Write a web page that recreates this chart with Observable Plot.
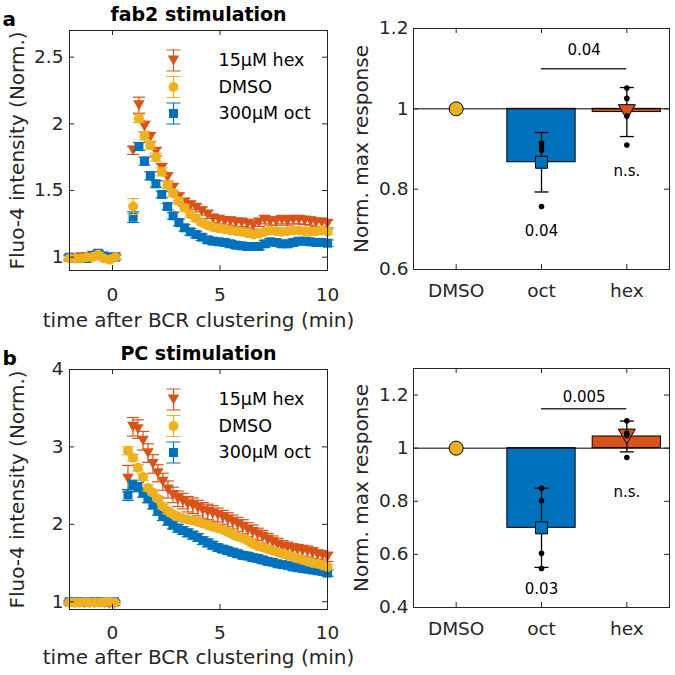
<!DOCTYPE html>
<html><head><meta charset="utf-8">
<script src="https://cdn.jsdelivr.net/npm/d3@7"></script>
<script src="https://cdn.jsdelivr.net/npm/@observablehq/plot@0.6"></script>
<style>
html,body{margin:0;padding:0;background:#fff;}
#root{position:relative;width:675px;height:675px;overflow:hidden;font-family:"DejaVu Sans",sans-serif;}
#root > svg{position:absolute;}
</style></head><body><div id="root"></div>
<script>
// ---------- Panel a (fab2 stimulation) time course ----------
const timeFab2 = [-2.00,-1.73,-1.47,-1.20,-0.93,-0.67,-0.40,-0.13,0.13,
  0.96,1.23,1.49,1.76,2.02,2.29,2.56,2.82,3.09,3.35,3.62,3.89,4.15,4.42,4.68,4.95,5.22,5.48,5.75,6.01,
  6.28,6.55,6.81,7.08,7.34,7.61,7.88,8.14,8.41,8.67,8.94,9.21,9.47,9.74,10.00];
const hexFab2 = [0.99,0.99,1.00,1.00,1.01,1.02,1.00,0.99,1.00,
  1.80,2.14,1.98,1.90,1.79,1.67,1.60,1.52,1.45,1.41,1.39,1.37,1.345,1.32,1.29,1.28,1.27,1.27,1.26,1.26,
  1.25,1.24,1.26,1.28,1.27,1.27,1.28,1.27,1.28,1.28,1.275,1.27,1.26,1.26,1.25];
const hexFab2Err = [0.02,0.02,0.02,0.02,0.02,0.02,0.02,0.02,0.02,
  0.03,0.06,0.04,0.035,0.03,0.03,0.03,0.03,0.03,0.03,0.03,0.03,0.03,0.03,0.03,0.03,0.03,0.03,0.03,0.03,
  0.03,0.03,0.03,0.03,0.03,0.03,0.03,0.03,0.03,0.03,0.03,0.03,0.03,0.03,0.03];
const dmsoFab2 = [0.99,0.99,0.99,1.00,1.00,1.02,0.99,0.98,1.00,
  1.38,2.04,1.91,1.84,1.75,1.64,1.54,1.48,1.42,1.37,1.32,1.29,1.26,1.24,1.225,1.215,1.21,1.20,1.195,1.19,
  1.18,1.17,1.175,1.19,1.20,1.195,1.19,1.195,1.20,1.20,1.195,1.19,1.195,1.20,1.19];
const dmsoFab2Err = [0.015,0.015,0.015,0.015,0.015,0.015,0.015,0.015,0.015,
  0.06,0.03,0.03,0.03,0.03,0.03,0.025,0.025,0.025,0.025,0.02,0.02,0.02,0.02,0.02,0.02,0.02,0.02,0.02,0.02,
  0.02,0.02,0.02,0.02,0.02,0.02,0.02,0.02,0.02,0.02,0.02,0.02,0.02,0.02,0.02];
const octFab2 = [1.00,0.99,0.99,0.99,1.01,1.03,1.01,1.00,1.00,
  1.30,1.83,1.72,1.61,1.55,1.47,1.38,1.31,1.26,1.22,1.19,1.17,1.15,1.13,1.12,1.115,1.11,1.10,1.09,1.085,
  1.08,1.08,1.08,1.10,1.115,1.11,1.10,1.10,1.11,1.12,1.12,1.115,1.11,1.11,1.105];
const octFab2Err = [0.015,0.015,0.015,0.015,0.015,0.015,0.015,0.015,0.015,
  0.04,0.03,0.03,0.03,0.025,0.025,0.025,0.025,0.025,0.025,0.025,0.025,0.025,0.025,0.025,0.025,0.025,0.025,0.025,0.025,
  0.025,0.025,0.025,0.025,0.025,0.025,0.025,0.025,0.025,0.025,0.025,0.025,0.025,0.025,0.025];

// ---------- Panel b (PC stimulation) time course ----------
const timePC = [-2.00,-1.77,-1.54,-1.30,-1.07,-0.84,-0.61,-0.38,-0.14,0.09,
  0.72,0.95,1.18,1.42,1.65,1.88,2.11,2.34,2.58,2.81,3.04,3.27,3.50,3.74,3.97,4.20,4.43,4.66,4.90,5.13,
  5.36,5.59,5.82,6.06,6.29,6.52,6.75,6.98,7.22,7.45,7.68,7.91,8.14,8.38,8.61,8.84,9.07,9.30,9.54,9.77,10.00];
const hexPC = [0.98,0.98,0.99,0.98,0.98,0.98,0.99,0.98,0.97,0.97,
  2.59,3.26,3.23,3.08,2.92,2.78,2.66,2.55,2.45,2.38,2.33,2.30,2.26,2.24,2.21,2.18,2.16,2.14,2.12,2.09,
  2.06,2.03,2.00,1.97,1.93,1.90,1.87,1.84,1.80,1.77,1.74,1.71,1.70,1.68,1.67,1.66,1.65,1.63,1.61,1.60,1.58];
const hexPCErr = [0.02,0.02,0.02,0.02,0.02,0.02,0.02,0.02,0.02,0.02,
  0.17,0.12,0.12,0.12,0.12,0.12,0.11,0.11,0.11,0.10,0.10,0.10,0.10,0.10,0.10,0.10,0.10,0.10,0.09,0.09,
  0.09,0.09,0.09,0.09,0.09,0.09,0.08,0.08,0.08,0.08,0.08,0.08,0.07,0.07,0.07,0.07,0.07,0.07,0.06,0.06,0.06];
const dmsoPC = [0.99,0.99,0.99,0.99,0.99,0.99,0.99,0.99,1.00,0.99,
  2.95,2.86,2.73,2.61,2.47,2.41,2.33,2.23,2.17,2.13,2.10,2.08,2.06,2.05,2.03,2.01,1.99,1.97,1.95,1.93,
  1.90,1.87,1.84,1.82,1.79,1.75,1.72,1.70,1.68,1.66,1.64,1.62,1.60,1.58,1.56,1.54,1.52,1.50,1.49,1.47,1.45];
const dmsoPCErr = [0.015,0.015,0.015,0.015,0.015,0.015,0.015,0.015,0.015,0.015,
  0.05,0.04,0.04,0.04,0.04,0.03,0.03,0.03,0.03,0.03,0.03,0.03,0.03,0.03,0.03,0.03,0.03,0.03,0.03,0.03,
  0.03,0.03,0.03,0.03,0.03,0.03,0.03,0.03,0.03,0.03,0.03,0.03,0.03,0.03,0.03,0.03,0.03,0.03,0.03,0.03,0.03];
const octPC = [1.00,1.00,1.00,0.99,1.00,1.00,1.00,0.99,1.00,1.00,
  2.38,2.51,2.48,2.41,2.33,2.25,2.17,2.10,2.04,1.99,1.95,1.92,1.89,1.86,1.83,1.79,1.76,1.73,1.70,1.68,
  1.66,1.64,1.62,1.60,1.59,1.57,1.56,1.54,1.52,1.51,1.49,1.48,1.47,1.45,1.44,1.43,1.42,1.41,1.40,1.39,1.37];
const octPCErr = [0.015,0.015,0.015,0.015,0.015,0.015,0.015,0.015,0.015,0.015,
  0.07,0.06,0.06,0.06,0.05,0.05,0.05,0.05,0.05,0.05,0.05,0.05,0.05,0.05,0.05,0.05,0.05,0.05,0.045,0.045,
  0.045,0.045,0.045,0.045,0.045,0.045,0.045,0.045,0.04,0.04,0.04,0.04,0.04,0.04,0.04,0.04,0.04,0.04,0.04,0.04,0.04];

// ---------- Bar panels ----------
const categories = ["DMSO", "oct", "hex"];
const fab2Mean = [1.0, 0.867, 0.992];
const fab2Err = [0, 0.074, 0.061];
const fab2OctPoints = [0.915, 0.905, 0.897, 0.757];
const fab2HexPoints = [1.052, 1.026, 0.982, 0.910];
const pcMean = [1.0, 0.700, 1.044];
const pcErr = [0, 0.149, 0.058];
const pcOctPoints = [0.849, 0.802, 0.604, 0.547];
const pcHexPoints = [1.103, 1.057, 1.048, 0.965];
const fab2Sig = {from: "oct", to: "hex", y: 1.10, label: "0.04", labelY: 1.147};
const pcSig = {from: "oct", to: "hex", y: 1.148, label: "0.005", labelY: 1.193};
const fab2Notes = [{cat: "oct", y: 0.696, label: "0.04"}, {cat: "hex", y: 0.844, label: "n.s."}];
const pcNotes = [{cat: "oct", y: 0.47, label: "0.03"}, {cat: "hex", y: 0.836, label: "n.s."}];

// ---------- Tick labels ----------
const timeTicks = [0, 5, 10];
const fab2YTicks = [1, 1.5, 2, 2.5];
const pcYTicks = [1, 2, 3, 4];
const fab2BarTicks = [0.6, 0.8, 1, 1.2];
const pcBarTicks = [0.4, 0.6, 0.8, 1, 1.2];

const AX = "#262626";
const C = {hex: "#D95319", dmso: "#EDB120", oct: "#0072BD"};
const FONT = "DejaVu Sans";

const capSym = (w) => ({draw(ctx){ ctx.moveTo(-w/2, 0); ctx.lineTo(w/2, 0); }});
const legendBar = (h, w) => ({draw(ctx){ ctx.moveTo(-w/2,-h); ctx.lineTo(w/2,-h); ctx.moveTo(0,-h); ctx.lineTo(0,h); ctx.moveTo(-w/2,h); ctx.lineTo(w/2,h); }});
const triDown = (s) => ({draw(ctx){ const h = s*0.866; ctx.moveTo(-s/2,-h/2); ctx.lineTo(s/2,-h/2); ctx.lineTo(0,h/2); ctx.closePath(); }});
const squareSym = (s) => ({draw(ctx){ ctx.rect(-s/2,-s/2,s,s); }});
const circleSym = (d) => ({draw(ctx){ ctx.moveTo(d/2,0); ctx.arc(0,0,d/2,0,2*Math.PI); }});
const fmt = d3.format("~g");

function innerTicks(xTicks, yTicks, fw, fh) {
  return [
    Plot.tickY(yTicks, {y: d => d, insetRight: fw - 5, stroke: AX}),
    Plot.tickY(yTicks, {y: d => d, insetLeft: fw - 5, stroke: AX}),
    Plot.tickX(xTicks, {x: d => d, insetTop: fh - 5, stroke: AX}),
    Plot.tickX(xTicks, {x: d => d, insetBottom: fh - 5, stroke: AX})
  ];
}

function timePanel(o) {
  const W = 340, ML = 69, MR = 13;
  const fw = W - ML - MR, fh = o.height - o.mTop - o.mBottom;
  const series = [
    {key: "hex", label: "15\u03BCM hex", values: o.hex, errs: o.hexErr, color: C.hex, sym: triDown(11.5)},
    {key: "oct", label: "300\u03BCM oct", values: o.oct, errs: o.octErr, color: C.oct, sym: squareSym(9)},
    {key: "dmso", label: "DMSO", values: o.dmso, errs: o.dmsoErr, color: C.dmso, sym: circleSym(10)}
  ];
  const marks = [];
  series.forEach(s => {
    const rows = o.time.map((t, i) => ({t, v: s.values[i], e: s.errs[i]}));
    marks.push(Plot.ruleX(rows, {x: "t", y1: d => d.v - d.e, y2: d => d.v + d.e, stroke: s.color, strokeWidth: 1.2}));
    marks.push(Plot.dot(rows, {x: "t", y: d => d.v - d.e, symbol: capSym(12), stroke: s.color, fill: "none", strokeWidth: 1.2}));
    marks.push(Plot.dot(rows, {x: "t", y: d => d.v + d.e, symbol: capSym(12), stroke: s.color, fill: "none", strokeWidth: 1.2}));
    marks.push(Plot.dot(rows, {x: "t", y: "v", symbol: s.sym, fill: s.color, stroke: "none"}));
  });
  const legendOrder = [series[0], series[2], series[1]];
  legendOrder.forEach((s, k) => {
    const dy = 30 + k * 26.5;
    marks.push(Plot.dot([s], {x: null, y: null, frameAnchor: "top-left", dx: 104, dy, symbol: legendBar(10.5, 14), stroke: s.color, fill: "none", strokeWidth: 1.2}));
    marks.push(Plot.dot([s], {x: null, y: null, frameAnchor: "top-left", dx: 104, dy, symbol: s.sym, fill: s.color, stroke: "none"}));
    marks.push(Plot.text([s.label], {x: null, y: null, frameAnchor: "top-left", dx: 149, dy, textAnchor: "start", lineAnchor: "middle", fontSize: 17.5, fill: "black"}));
  });
  marks.push(Plot.text([o.title], {x: null, y: null, frameAnchor: "top", dy: -15.3, lineAnchor: "middle", fontSize: 19, fontWeight: "bold", fill: "black"}));
  marks.push(Plot.text([o.letter], {x: null, y: null, frameAnchor: "top-left", dx: -67, dy: o.letterDy, textAnchor: "start", lineAnchor: "middle", fontSize: 20, fontWeight: "bold", fill: "black"}));
  marks.push(Plot.text(["Fluo-4 intensity (Norm.)"], {x: null, y: null, frameAnchor: "left", rotate: -90, dx: -60, textAnchor: "middle", lineAnchor: "top", fontSize: 20, fill: AX}));
  marks.push(Plot.text(["time after BCR clustering (min)"], {x: null, y: null, frameAnchor: "bottom", dy: o.labelDy, lineAnchor: "middle", fontSize: 20, fill: AX}));
  marks.push(...innerTicks(timeTicks, o.yTicks, fw, fh));
  marks.push(Plot.frame({stroke: AX, strokeWidth: 1}));
  const svg = Plot.plot({
    width: W, height: o.height, marginLeft: ML, marginRight: MR, marginTop: o.mTop, marginBottom: o.mBottom,
    x: {domain: [-2, 10], ticks: timeTicks, tickSize: 0, tickPadding: o.tickPadX, tickFormat: fmt, label: null},
    y: {domain: o.yDomain, ticks: o.yTicks, tickSize: 0, tickPadding: 6, tickFormat: fmt, label: null},
    style: {fontFamily: FONT, fontSize: "18.5px", color: AX, background: "transparent", overflow: "visible"},
    marks
  });
  svg.style.left = o.left + "px"; svg.style.top = o.top + "px";
  return svg;
}

function barPanel(o) {
  const W = 335, ML = 73, MR = 6;
  const fw = W - ML - MR, fh = o.height - o.mTop - o.mBottom;
  const idx = c => categories.indexOf(c) + 1;
  const colors = [C.dmso, C.oct, C.hex];
  const syms = [circleSym(14), squareSym(12), triDown(17)];
  const bars = categories.map((c, i) => ({i: i + 1, v: o.mean[i], e: o.err[i], color: colors[i], sym: syms[i]}));
  const withErr = bars.filter(d => d.e > 0);
  const pts = [...o.octPts.map(v => ({i: idx("oct"), v})), ...o.hexPts.map(v => ({i: idx("hex"), v}))];
  const marks = [
    Plot.rect(bars.filter(d => d.v !== 1), {x1: d => d.i - 0.4, x2: d => d.i + 0.4, y1: () => 1, y2: "v", fill: "color", stroke: "black", strokeWidth: 1}),
    Plot.ruleY([1], {stroke: "black", strokeWidth: 1}),
    Plot.ruleX(withErr, {x: "i", y1: d => d.v - d.e, y2: d => d.v + d.e, stroke: "black", strokeWidth: 1.3}),
    Plot.dot(withErr, {x: "i", y: d => d.v - d.e, symbol: capSym(14), stroke: "black", fill: "none", strokeWidth: 1.3}),
    Plot.dot(withErr, {x: "i", y: d => d.v + d.e, symbol: capSym(14), stroke: "black", fill: "none", strokeWidth: 1.3})
  ];
  bars.forEach(b => marks.push(Plot.dot([b], {x: "i", y: "v", symbol: b.sym, fill: b.color, stroke: "black", strokeWidth: 1})));
  marks.push(Plot.dot(pts, {x: "i", y: "v", r: 2.8, fill: "black", stroke: "none"}));
  marks.push(Plot.ruleY([o.sig], {y: "y", x1: d => idx(d.from), x2: d => idx(d.to), stroke: "#333", strokeWidth: 1.5}));
  marks.push(Plot.text([o.sig], {x: d => (idx(d.from) + idx(d.to)) / 2, y: "labelY", text: "label", fontSize: 15, fill: "black", lineAnchor: "middle"}));
  marks.push(Plot.text(o.notes, {x: d => idx(d.cat), y: "y", text: "label", fontSize: 15, fill: "black", lineAnchor: "middle"}));
  marks.push(Plot.text(["Norm. max response"], {x: null, y: null, frameAnchor: "left", rotate: -90, dx: -60, textAnchor: "middle", lineAnchor: "top", fontSize: 20, fill: AX}));
  marks.push(...innerTicks([1, 2, 3], o.yTicks, fw, fh));
  marks.push(Plot.frame({stroke: AX, strokeWidth: 1}));
  const svg = Plot.plot({
    width: W, height: o.height, marginLeft: ML, marginRight: MR, marginTop: o.mTop, marginBottom: o.mBottom,
    x: {domain: [0.5, 3.5], ticks: [1, 2, 3], tickSize: 0, tickPadding: 14, tickFormat: i => categories[i - 1], label: null},
    y: {domain: o.yDomain, ticks: o.yTicks, tickSize: 0, tickPadding: 5, tickFormat: fmt, label: null},
    style: {fontFamily: FONT, fontSize: "18.5px", color: AX, background: "transparent", overflow: "visible"},
    marks
  });
  svg.style.left = o.left + "px"; svg.style.top = o.top + "px";
  return svg;
}

const root = document.getElementById("root");
root.append(timePanel({
  left: 0, top: 0, height: 340, mTop: 30, mBottom: 70, tickPadX: 17, labelDy: 50.3, letterDy: -11.4,
  time: timeFab2, hex: hexFab2, hexErr: hexFab2Err, dmso: dmsoFab2, dmsoErr: dmsoFab2Err, oct: octFab2, octErr: octFab2Err,
  yDomain: [0.9, 2.7], yTicks: fab2YTicks, title: "fab2 stimulation", letter: "a"
}));
root.append(timePanel({
  left: 0, top: 340, height: 335, mTop: 29, mBottom: 66, tickPadX: 16, labelDy: 47.7, letterDy: -10.7,
  time: timePC, hex: hexPC, hexErr: hexPCErr, dmso: dmsoPC, dmsoErr: dmsoPCErr, oct: octPC, octErr: octPCErr,
  yDomain: [0.9, 4], yTicks: pcYTicks, title: "PC stimulation", letter: "b"
}));
root.append(barPanel({
  left: 340, top: 0, height: 340, mTop: 28, mBottom: 71,
  mean: fab2Mean, err: fab2Err, octPts: fab2OctPoints, hexPts: fab2HexPoints,
  sig: fab2Sig, notes: fab2Notes, yDomain: [0.6, 1.2], yTicks: fab2BarTicks
}));
root.append(barPanel({
  left: 340, top: 340, height: 335, mTop: 28, mBottom: 68,
  mean: pcMean, err: pcErr, octPts: pcOctPoints, hexPts: pcHexPoints,
  sig: pcSig, notes: pcNotes, yDomain: [0.4, 1.3], yTicks: pcBarTicks
}));
</script></body></html>
